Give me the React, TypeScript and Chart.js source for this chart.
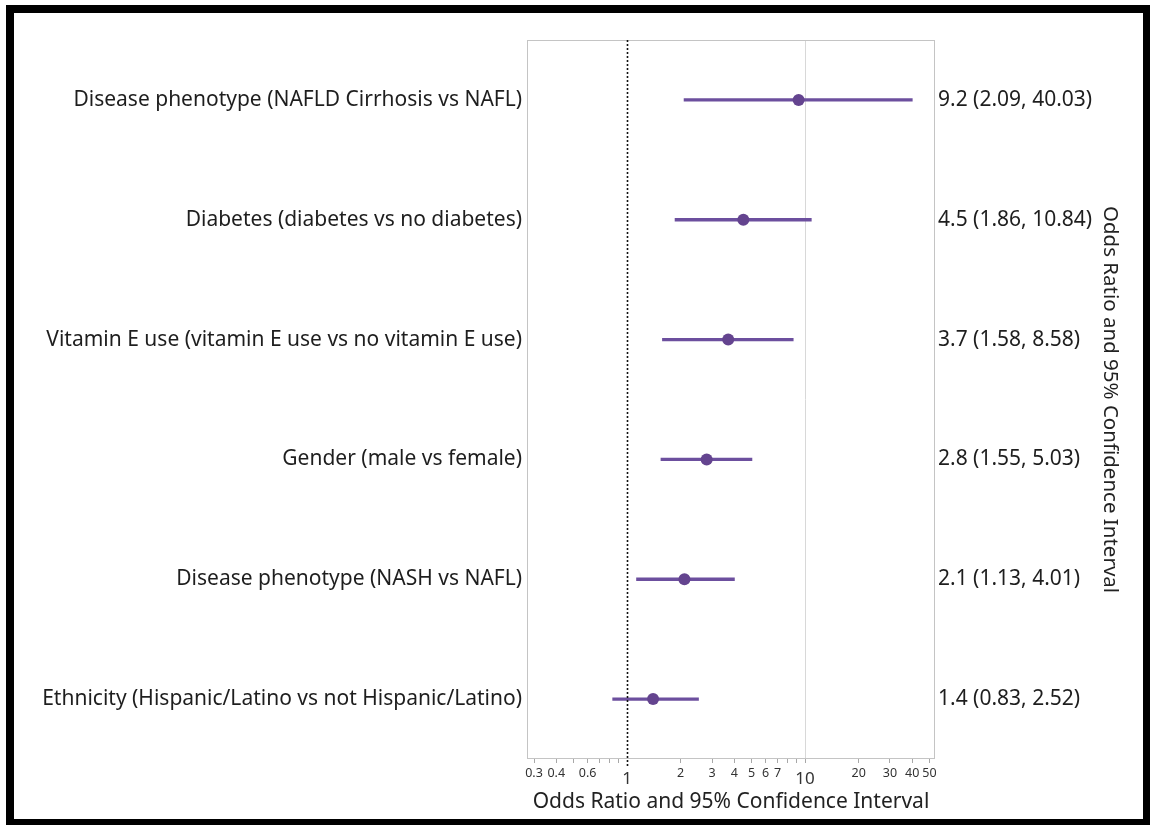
import React, { useEffect, useRef } from "react";
import { Chart, registerables } from "chart.js";

Chart.register(...registerables);

const categories = [
  "Disease phenotype (NAFLD Cirrhosis vs NAFL)",
  "Diabetes (diabetes vs no diabetes)",
  "Vitamin E use (vitamin E use vs no vitamin E use)",
  "Gender (male vs female)",
  "Disease phenotype (NASH vs NAFL)",
  "Ethnicity (Hispanic/Latino vs not Hispanic/Latino)",
];
const oddsRatios = [9.2, 4.5, 3.7, 2.8, 2.1, 1.4];
const ciLow = [2.09, 1.86, 1.58, 1.55, 1.13, 0.83];
const ciHigh = [40.03, 10.84, 8.58, 5.03, 4.01, 2.52];
const ciLabels = [
  "9.2 (2.09, 40.03)",
  "4.5 (1.86, 10.84)",
  "3.7 (1.58, 8.58)",
  "2.8 (1.55, 5.03)",
  "2.1 (1.13, 4.01)",
  "1.4 (0.83, 2.52)",
];
const tickValues = [0.3, 0.4, 0.5, 0.6, 0.7, 0.8, 0.9, 1, 2, 3, 4, 5, 6, 7, 8, 9, 10, 20, 30, 40, 50];
const labeledTicks = [0.3, 0.4, 0.6, 1, 2, 3, 4, 5, 6, 7, 10, 20, 30, 40, 50];
const bigTicks = [1, 10];
const xMin = 0.274;
const xMax = 53.7;
const axisTitle = "Odds Ratio and 95% Confidence Interval";

const FONT = "'Noto Sans', 'Open Sans', sans-serif";
const PURPLE = "#6c4f9e";
const PURPLE_DARK = "#64448f";

const framePlugin = {
  id: "plotFrame",
  afterDraw(chart: any) {
    const { ctx, chartArea } = chart;
    const xs = chart.scales.x;
    ctx.save();
    ctx.strokeStyle = "#c4c4c4";
    ctx.lineWidth = 1;
    ctx.strokeRect(chartArea.left + 0.5, chartArea.top + 0.5, chartArea.width - 1, chartArea.height - 1);
    const px = Math.round(xs.getPixelForValue(1)) + 0.5;
    ctx.strokeStyle = "#111";
    ctx.lineWidth = 1.6;
    ctx.setLineDash([2, 2]);
    ctx.beginPath();
    ctx.moveTo(px, chartArea.top);
    ctx.lineTo(px, chartArea.bottom + 8);
    ctx.stroke();
    ctx.restore();
  },
};

export default function App() {
  const ref = useRef<HTMLCanvasElement | null>(null);

  useEffect(() => {
    if (!ref.current) return;
    const chart = new Chart(ref.current, {
      type: "bar",
      data: {
        labels: categories,
        datasets: [
          {
            type: "line",
            data: oddsRatios,
            showLine: false,
            pointRadius: 6,
            pointHoverRadius: 6,
            pointBackgroundColor: PURPLE_DARK,
            pointBorderColor: PURPLE_DARK,
            pointBorderWidth: 0,
            order: 0,
            xAxisID: "x",
            yAxisID: "y",
          } as any,
          {
            type: "bar",
            data: ciLow.map((l, i) => [l, ciHigh[i]]),
            backgroundColor: PURPLE,
            borderWidth: 0,
            barThickness: 2.6,
            order: 1,
            xAxisID: "x",
            yAxisID: "y",
          } as any,
        ],
      },
      options: {
        indexAxis: "y",
        animation: false,
        responsive: false,
        maintainAspectRatio: false,
        layout: { padding: { top: 40, bottom: 10, left: 0, right: 28 } },
        plugins: { legend: { display: false }, tooltip: { enabled: false } },
        scales: {
          x: {
            type: "logarithmic",
            min: xMin,
            max: xMax,
            position: "bottom",
            afterBuildTicks: (scale: any) => {
              scale.ticks = tickValues.map((v) => ({ value: v }));
            },
            afterFit: (scale: any) => {
              scale.height = 56;
            },
            grid: {
              color: (c: any) => (c.tick && c.tick.value === 10 ? "#d8d8d8" : "rgba(0,0,0,0)"),
              lineWidth: 1,
              drawTicks: true,
              tickLength: 4,
              tickColor: (c: any) => (c.tick && c.tick.value === 1 ? "rgba(0,0,0,0)" : "#a8a8a8"),
            },
            border: { display: false },
            ticks: {
              autoSkip: false,
              maxRotation: 0,
              padding: 3,
              color: "#333",
              font: (c: any) =>
                c.tick && bigTicks.includes(c.tick.value)
                  ? { family: FONT, size: 17, lineHeight: 1.53 }
                  : { family: FONT, size: 12.5 },
              callback: (value: any) => (labeledTicks.includes(Number(value)) ? String(value) : ""),
            },
            title: {
              display: true,
              text: axisTitle,
              color: "#222",
              font: { family: FONT, size: 21 },
              padding: { top: 0, bottom: 0 },
            },
          },
          y: {
            type: "category",
            position: "left",
            offset: true,
            afterFit: (scale: any) => {
              scale.width = 527;
            },
            grid: { display: false, drawTicks: false },
            border: { display: false },
            ticks: {
              padding: 5,
              color: "#1e1e1e",
              font: { family: FONT, size: 21 },
            },
          },
          y2: {
            type: "category",
            position: "right",
            labels: ciLabels,
            offset: true,
            afterFit: (scale: any) => {
              scale.width = 187;
            },
            grid: { display: false, drawTicks: false },
            border: { display: false },
            ticks: {
              padding: 3,
              color: "#1e1e1e",
              font: { family: FONT, size: 21 },
            },
            title: {
              display: true,
              text: axisTitle,
              color: "#222",
              font: { family: FONT, size: 20.5 },
              padding: { top: 0, bottom: 0 },
            },
          },
        },
      } as any,
      plugins: [framePlugin],
    });
    return () => chart.destroy();
  }, []);

  return (
    <div
      style={{
        position: "fixed",
        left: 0,
        top: 0,
        width: 1150,
        height: 825,
        background: "#fff",
        overflow: "hidden",
      }}
    >
      <canvas ref={ref} width={1150} height={825} style={{ display: "block" }} />
      <div
        style={{
          position: "absolute",
          left: 6,
          top: 5,
          width: 1145,
          height: 822,
          border: "8px solid #000",
          boxSizing: "border-box",
          pointerEvents: "none",
        }}
      />
    </div>
  );
}
